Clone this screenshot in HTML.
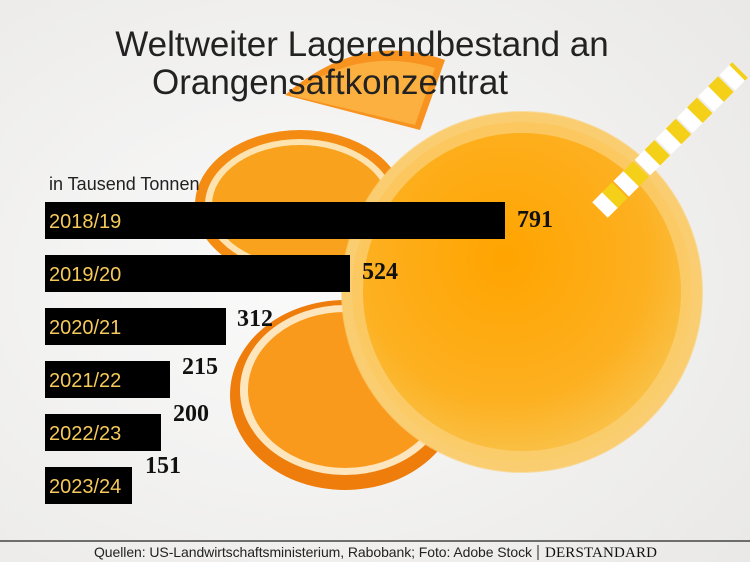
<!DOCTYPE html>
<html><head><meta charset="utf-8"><style>
body{margin:0;width:750px;height:562px;overflow:hidden;background:#f3f2f0;font-family:"Liberation Sans",sans-serif}
</style></head><body>
<svg width="750" height="562" viewBox="0 0 750 562" style="position:absolute;left:0;top:0">
<defs>
<radialGradient id="bg" cx="0.4" cy="0.5" r="0.8"><stop offset="0" stop-color="#fafafa"/><stop offset="1" stop-color="#e9e8e6"/></radialGradient>
<radialGradient id="juice" cx="0.45" cy="0.4" r="0.6"><stop offset="0" stop-color="#ffa400"/><stop offset="0.7" stop-color="#fdb020"/><stop offset="1" stop-color="#f9c24a"/></radialGradient>
</defs>
<rect width="750" height="562" fill="url(#bg)"/>
<path d="M285 95 Q360 30 445 60 L420 130 Z" fill="#f7931e"/>
<path d="M290 95 Q360 45 435 68 L415 125 Z" fill="#fbb040"/>
<ellipse cx="300" cy="205" rx="105" ry="75" fill="#f48b12"/>
<ellipse cx="300" cy="205" rx="95" ry="66" fill="#fde3b0"/>
<ellipse cx="300" cy="205" rx="88" ry="60" fill="#f9a21e"/>
<ellipse cx="345" cy="395" rx="115" ry="95" fill="#ee7d0c"/>
<ellipse cx="345" cy="390" rx="105" ry="85" fill="#fde6bd"/>
<ellipse cx="345" cy="390" rx="97" ry="78" fill="#f99a1c"/>
<circle cx="522" cy="292" r="180" fill="#f7c25a"/>
<circle cx="522" cy="292" r="170" fill="url(#juice)"/>
<circle cx="522" cy="292" r="170" fill="none" stroke="#fbd27a" stroke-width="22" opacity="0.7"/>
<line x1="600" y1="210" x2="740" y2="70" stroke="#fff" stroke-width="22" stroke-dasharray="16 14" />
<line x1="600" y1="210" x2="740" y2="70" stroke="#f5d019" stroke-width="22" stroke-dasharray="14 16" stroke-dashoffset="16"/>
<g fill="#000">
<rect x="45" y="202" width="460" height="37"/>
<rect x="45" y="255" width="305" height="37"/>
<rect x="45" y="308" width="181" height="37"/>
<rect x="45" y="361" width="125" height="37"/>
<rect x="45" y="414" width="116" height="37"/>
<rect x="45" y="467" width="87" height="37"/>
</g>
<g fill="#f5c95a" font-size="20" font-family="Liberation Sans, sans-serif">
<text x="49" y="228">2018/19</text><text x="49" y="281">2019/20</text><text x="49" y="334">2020/21</text>
<text x="49" y="387">2021/22</text><text x="49" y="440">2022/23</text><text x="49" y="493">2023/24</text>
</g>
<g fill="#111" font-size="24" font-weight="bold" font-family="Liberation Serif, serif">
<text x="517" y="227">791</text><text x="362" y="279">524</text><text x="237" y="326">312</text>
<text x="182" y="374">215</text><text x="173" y="421">200</text><text x="145" y="473">151</text>
</g>
<text x="49" y="190" font-size="18" fill="#222">in Tausend Tonnen</text>
<text x="362" y="56" font-size="35" fill="#222" text-anchor="middle">Weltweiter Lagerendbestand an</text>
<text x="330" y="94" font-size="35" fill="#222" text-anchor="middle">Orangensaftkonzentrat</text>
<line x1="0" y1="541" x2="750" y2="541" stroke="#444" stroke-width="1.5"/>
<text x="94" y="557" font-size="14" fill="#222" textLength="438">Quellen: US-Landwirtschaftsministerium, Rabobank; Foto: Adobe Stock</text>
<line x1="538" y1="545" x2="538" y2="560" stroke="#222"/>
<text x="545" y="557" font-size="15" font-family="Liberation Serif, serif" fill="#111" textLength="112">DERSTANDARD</text>
</svg>
</body></html>
